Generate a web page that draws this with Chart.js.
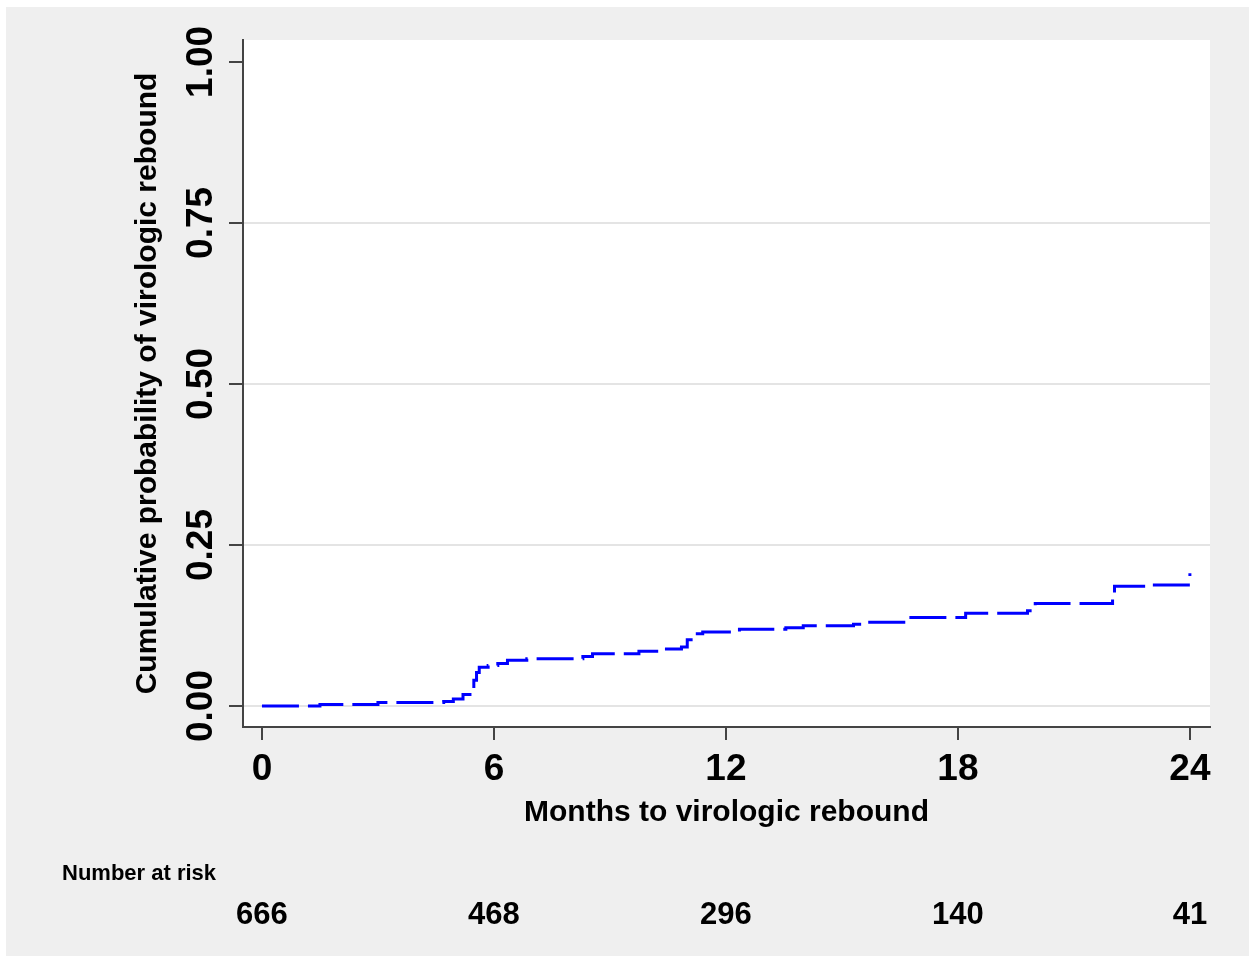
<!DOCTYPE html>
<html>
<head>
<meta charset="utf-8">
<script src="https://cdn.jsdelivr.net/npm/chart.js@4.4.1/dist/chart.umd.min.js"></script>
<style>
  html, body { margin: 0; padding: 0; background: #ffffff; }
  #wrap { width: 1249px; height: 956px; }
</style>
</head>
<body>
<div id="wrap"><canvas id="km"></canvas></div>
<script>
// Kaplan-Meier failure estimate
const months = [0, 1.5, 3.0, 4.7, 4.95, 5.2, 5.38, 5.48, 5.55, 5.62, 5.85, 6.1, 6.35, 6.85,
                8.3, 8.55, 9.75, 10.3, 10.85, 11.0, 11.1, 11.4, 12.35, 13.55, 14.0, 15.3,
                15.5, 16.6, 18.2, 19.8, 20.0, 22.0, 22.05, 23.0, 24.0];
const cumProb = [0, 0.0025, 0.0055, 0.007, 0.011, 0.018, 0.026, 0.04, 0.052, 0.06, 0.063, 0.066, 0.071, 0.0735,
                 0.077, 0.081, 0.085, 0.0885, 0.0915, 0.103, 0.112, 0.115, 0.119, 0.1215, 0.1245, 0.127,
                 0.13, 0.1375, 0.144, 0.148, 0.159, 0.172, 0.186, 0.188, 0.206];

const xTicks = [0, 6, 12, 18, 24];
const yTicks = [0, 0.25, 0.5, 0.75, 1];
const yTickLabels = ['0.00', '0.25', '0.50', '0.75', '1.00'];
const atRisk = [666, 468, 296, 140, 41];

const FONT = '"Liberation Sans", Arial, Helvetica, sans-serif';

// background: gray page, white plot region
const backdrop = {
  id: 'backdrop',
  beforeDraw(chart) {
    const ctx = chart.ctx;
    const a = chart.chartArea;
    ctx.save();
    ctx.fillStyle = '#ffffff';
    ctx.fillRect(0, 0, chart.width, chart.height);
    ctx.fillStyle = '#efefef';
    ctx.fillRect(6, 7, chart.width - 6, chart.height - 7);
    ctx.fillStyle = '#ffffff';
    ctx.fillRect(a.left, a.top, a.right - a.left, a.bottom - a.top);
    ctx.restore();
  }
};

// rotated y tick labels and the number-at-risk table
const extras = {
  id: 'extras',
  afterDraw(chart) {
    const ctx = chart.ctx;
    const ys = chart.scales.y;
    const xs = chart.scales.x;
    ctx.save();
    ctx.fillStyle = '#000000';
    ctx.font = 'bold 37px ' + FONT;
    ctx.textAlign = 'center';
    ctx.textBaseline = 'middle';
    yTicks.forEach((v, i) => {
      const py = ys.getPixelForValue(v);
      ctx.save();
      ctx.translate(202, py);
      ctx.rotate(-Math.PI / 2);
      ctx.fillText(yTickLabels[i], 0, 0);
      ctx.restore();
    });

    ctx.font = 'bold 22px ' + FONT;
    ctx.textAlign = 'left';
    ctx.fillText('Number at risk', 62, 874);

    ctx.font = 'bold 31px ' + FONT;
    ctx.textAlign = 'center';
    xTicks.forEach((v, i) => {
      ctx.fillText(String(atRisk[i]), xs.getPixelForValue(v), 915);
    });
    ctx.restore();
  }
};

new Chart(document.getElementById('km'), {
  type: 'line',
  data: {
    datasets: [{
      data: months.map((m, i) => ({ x: m, y: cumProb[i] })),
      borderColor: '#0000ff',
      borderWidth: 3,
      borderDash: [37, 9],
      stepped: 'before',
      pointRadius: 0,
      fill: false
    }]
  },
  options: {
    responsive: true,
    maintainAspectRatio: false,
    animation: false,
    layout: { padding: { left: 0, top: 40, right: 39, bottom: 0 } },
    plugins: { legend: { display: false }, tooltip: { enabled: false } },
    scales: {
      x: {
        type: 'linear',
        min: -0.49,
        max: 24.52,
        afterBuildTicks(scale) { scale.ticks = xTicks.map(v => ({ value: v })); },
        afterFit(scale) { scale.height = 229; },
        border: { display: true, color: '#444444', width: 2 },
        grid: { drawOnChartArea: false, drawTicks: true, tickLength: 13, tickColor: '#444444', lineWidth: 2 },
        ticks: {
          color: '#000000',
          font: { family: FONT, size: 37, weight: 'bold' },
          padding: 8,
          maxRotation: 0,
          autoSkip: false
        },
        title: {
          display: true,
          text: 'Months to virologic rebound',
          color: '#000000',
          font: { family: FONT, size: 30, weight: 'bold' },
          padding: { top: 0, bottom: 125 }
        }
      },
      y: {
        type: 'linear',
        min: -0.0326,
        max: 1.034,
        afterBuildTicks(scale) { scale.ticks = yTicks.map(v => ({ value: v })); },
        afterFit(scale) { scale.width = 243; },
        border: { display: true, color: '#444444', width: 2 },
        grid: {
          color: ctx => (ctx.tick && ctx.tick.value === 1 ? 'rgba(0,0,0,0)' : '#e4e4e4'),
          lineWidth: 2,
          drawTicks: true,
          tickLength: 14,
          tickColor: '#444444'
        },
        ticks: { display: false },
        title: {
          display: true,
          text: 'Cumulative probability of virologic rebound',
          color: '#000000',
          font: { family: FONT, size: 30, weight: 'bold' },
          padding: { top: 130, bottom: 0 }
        }
      }
    }
  },
  plugins: [backdrop, extras]
});
</script>
</body>
</html>
